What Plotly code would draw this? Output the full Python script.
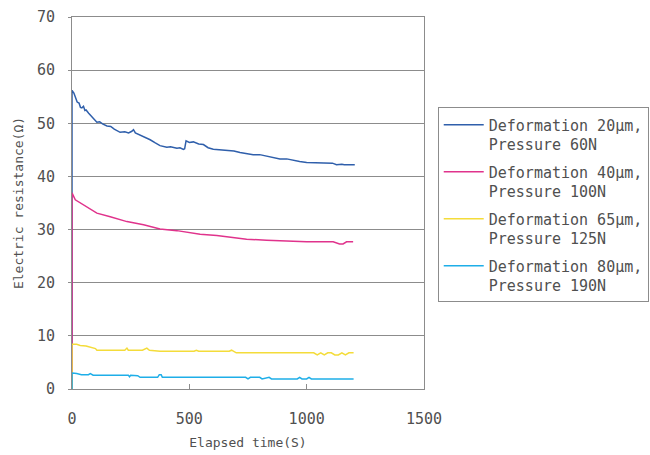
import plotly.graph_objects as go

# ---- data ----
blue_t = [0, 0, 8, 14, 22, 30, 36, 42, 49, 55, 60, 71, 80, 90, 106, 118, 130, 149, 165, 180,
          205, 225, 241, 255, 262, 270, 290, 310, 333, 355, 375, 404, 420, 447, 460, 475,
          480, 486, 500, 517, 540, 560, 580, 602, 630, 659, 690, 716, 745, 772, 800, 829,
          860, 886, 915, 943, 970, 1000, 1040, 1085, 1110, 1127, 1150, 1160, 1205]
blue_v = [0, 56.2, 55.7, 55.0, 54.0, 53.8, 53.0, 52.9, 53.2, 52.4, 52.5, 51.9, 51.5, 51.0,
          50.2, 50.3, 49.9, 49.5, 49.4, 48.9, 48.3, 48.4, 48.2, 48.5, 48.8, 48.2, 47.8,
          47.5, 46.9, 46.3, 45.8, 45.5, 45.6, 45.3, 45.4, 45.1, 45.2, 46.7, 46.4, 46.5,
          46.1, 46.0, 45.4, 45.1, 45.0, 44.9, 44.8, 44.5, 44.3, 44.1, 44.1, 43.8, 43.6,
          43.3, 43.3, 43.0, 42.8, 42.6, 42.6, 42.5, 42.5, 42.2, 42.3, 42.2, 42.2]

mag_t = [0, 0, 14, 35, 64, 106, 163, 234, 305, 375, 447, 489, 546, 617, 702, 744, 829, 915,
         1000, 1113, 1140, 1155, 1170, 1198]
mag_v = [0, 36.9, 35.6, 35.0, 34.2, 33.1, 32.4, 31.5, 30.9, 30.1, 29.8, 29.5, 29.1, 28.9,
         28.4, 28.2, 28.0, 27.8, 27.7, 27.7, 27.3, 27.3, 27.7, 27.7]

yel_t = [0, 0, 20, 35, 60, 78, 100, 106, 200, 225, 234, 240, 300, 319, 330, 375, 520, 530,
         540, 670, 680, 700, 1030, 1045, 1060, 1075, 1090, 1105, 1120, 1135, 1150, 1165,
         1180, 1200]
yel_v = [0, 8.4, 8.4, 8.2, 8.1, 7.9, 7.6, 7.3, 7.3, 7.3, 7.7, 7.3, 7.3, 7.7, 7.3, 7.1, 7.1,
         7.3, 7.1, 7.1, 7.3, 6.8, 6.8, 6.4, 6.8, 6.4, 6.8, 6.8, 6.4, 6.4, 6.8, 6.4, 6.8, 6.8]

cya_t = [0, 0, 20, 40, 70, 78, 90, 240, 245, 250, 280, 290, 365, 372, 380, 385, 740, 750,
         760, 800, 810, 840, 850, 960, 970, 980, 1000, 1010, 1020, 1200]
cya_v = [0, 3.0, 2.9, 2.7, 2.7, 2.9, 2.6, 2.6, 2.3, 2.6, 2.5, 2.2, 2.2, 2.7, 2.7, 2.2, 2.2,
         1.9, 2.2, 2.2, 1.9, 2.2, 1.9, 1.9, 2.2, 1.9, 1.9, 2.2, 1.9, 1.9]

names = ["Deformation 20μm,<br>Pressure 60N",
         "Deformation 40μm,<br>Pressure 100N",
         "Deformation 65μm,<br>Pressure 125N",
         "Deformation 80μm,<br>Pressure 190N"]
colors = ["#2f5fab", "#e0338c", "#f4dc3a", "#1eaee8"]

x_ticks = [0, 500, 1000, 1500]
y_ticks = [0, 10, 20, 30, 40, 50, 60, 70]

FONT = "DejaVu Sans Mono"
TXT = "#505050"
GRID = "#8c8c8c"

fig = go.Figure()
for i, (t, v, n, c) in enumerate(zip([blue_t, mag_t, yel_t, cya_t],
                                     [blue_v, mag_v, yel_v, cya_v], names, colors)):
    fig.add_trace(go.Scatter(x=t, y=v, mode="lines", name=n, legendgroup=f"g{i}",
                             line=dict(color=c, width=1.5)))

fig.update_layout(
    width=650, height=455,
    margin=dict(l=72, r=226, t=17, b=66, autoexpand=False),
    paper_bgcolor="white", plot_bgcolor="white",
    font=dict(family=FONT, color=TXT, size=14),
    showlegend=True,
    legend=dict(x=1.039, y=0.757, xanchor="left", yanchor="top",
                bordercolor="#8c8c8c", borderwidth=1, bgcolor="white",
                font=dict(family=FONT, size=15, color=TXT),
                valign="top", itemwidth=40, tracegroupgap=5),
)
fig.update_xaxes(range=[0, 1500], tickvals=x_ticks, showgrid=False,
                 showline=True, linecolor=GRID, linewidth=1, mirror=True,
                 ticks="inside", ticklen=5, tickcolor=GRID,
                 tickfont=dict(size=15, color=TXT), ticklabelstandoff=16,
                 title=dict(text="Elapsed time(S)", font=dict(size=13, color=TXT), standoff=10),
                 zeroline=False, automargin=False)
fig.update_yaxes(range=[0, 70], tickvals=y_ticks, showgrid=True, gridcolor=GRID, gridwidth=1,
                 showline=True, linecolor=GRID, linewidth=1, mirror=True,
                 ticks="outside", ticklen=3, tickcolor=GRID,
                 tickfont=dict(size=15, color=TXT), ticklabelstandoff=10,
                 title=dict(text="Electric resistance(Ω)", font=dict(size=13, color=TXT), standoff=10),
                 zeroline=False, automargin=False)

fig.write_html("out.html")
